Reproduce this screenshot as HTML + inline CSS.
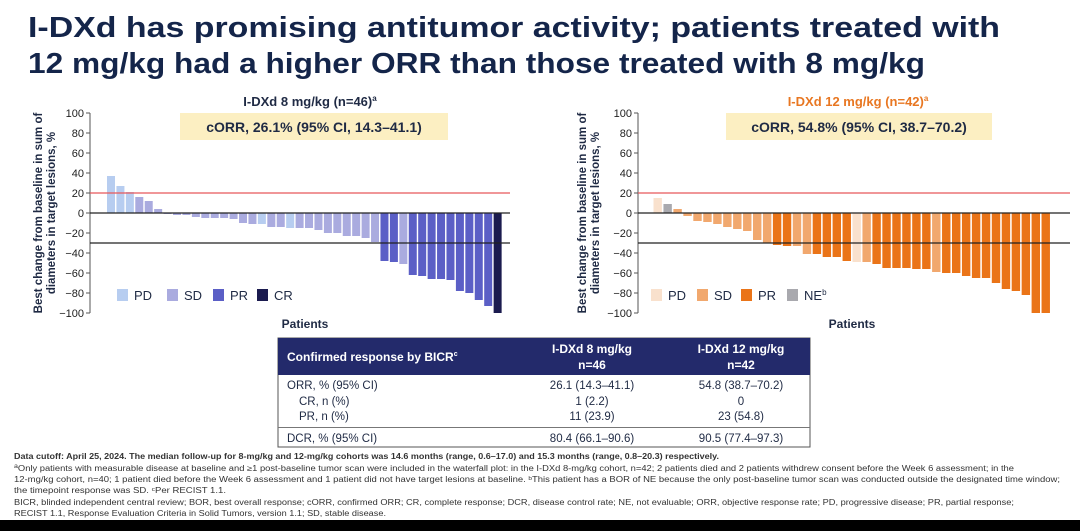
<!DOCTYPE html>
<html><head><meta charset="utf-8"><style>
body{margin:0;background:#fff;width:1080px;height:531px;overflow:hidden;font-family:"Liberation Sans",sans-serif}
svg{display:block}
</style></head><body>
<svg id="s" width="1080" height="531" viewBox="0 0 1080 531" font-family="Liberation Sans, sans-serif">
<text x="28" y="37" font-size="29" font-weight="bold" fill="#14254a" textLength="972" lengthAdjust="spacingAndGlyphs">I-DXd has promising antitumor activity; patients treated with</text>
<text x="28" y="73" font-size="29" font-weight="bold" fill="#14254a" textLength="897" lengthAdjust="spacingAndGlyphs">12 mg/kg had a higher ORR than those treated with 8 mg/kg</text>

<text x="310" y="106" font-size="13" font-weight="bold" fill="#1f2a44" text-anchor="middle">I-DXd 8 mg/kg (n=46)<tspan font-size="8" dy="-5">a</tspan></text>
<rect x="180" y="113" width="268" height="27" fill="#fcefc2"/>
<text x="314" y="132" font-size="14" font-weight="bold" fill="#1f2a44" text-anchor="middle">cORR, 26.1% (95% CI, 14.3–41.1)</text>

<text x="858" y="106" font-size="13" font-weight="bold" fill="#e87722" text-anchor="middle">I-DXd 12 mg/kg (n=42)<tspan font-size="8" dy="-5">a</tspan></text>
<rect x="726" y="113" width="266" height="27" fill="#fcefc2"/>
<text x="859" y="132" font-size="14" font-weight="bold" fill="#1f2a44" text-anchor="middle">cORR, 54.8% (95% CI, 38.7–70.2)</text>

<g id="charts"></g>

<g font-size="11.5" fill="#1f2a44">
<rect x="278" y="338" width="532" height="109" fill="#fff" stroke="#555" stroke-width="1"/>
<rect x="278" y="338" width="532" height="37" fill="#232a6b"/>
<text x="287" y="361" font-weight="bold" fill="#fff" font-size="12">Confirmed response by BICR<tspan font-size="7" dy="-5">c</tspan></text>
<text x="592" y="353" font-weight="bold" fill="#fff" font-size="12" text-anchor="middle">I-DXd 8 mg/kg</text>
<text x="592" y="369" font-weight="bold" fill="#fff" font-size="12" text-anchor="middle">n=46</text>
<text x="741" y="353" font-weight="bold" fill="#fff" font-size="12" text-anchor="middle">I-DXd 12 mg/kg</text>
<text x="741" y="369" font-weight="bold" fill="#fff" font-size="12" text-anchor="middle">n=42</text>
<text x="287" y="389">ORR, % (95% CI)</text>
<text x="299" y="405">CR, n (%)</text>
<text x="299" y="420">PR, n (%)</text>
<line x1="278" y1="427.5" x2="810" y2="427.5" stroke="#777"/>
<text x="287" y="442">DCR, % (95% CI)</text>
<text x="592" y="389" text-anchor="middle">26.1 (14.3–41.1)</text>
<text x="592" y="405" text-anchor="middle">1 (2.2)</text>
<text x="592" y="420" text-anchor="middle">11 (23.9)</text>
<text x="592" y="442" text-anchor="middle">80.4 (66.1–90.6)</text>
<text x="741" y="389" text-anchor="middle">54.8 (38.7–70.2)</text>
<text x="741" y="405" text-anchor="middle">0</text>
<text x="741" y="420" text-anchor="middle">23 (54.8)</text>
<text x="741" y="442" text-anchor="middle">90.5 (77.4–97.3)</text>
</g>

<g font-size="8" fill="#333" font-family="Liberation Sans Narrow, Liberation Sans, sans-serif">
<text x="14" y="459" font-weight="bold" textLength="705" lengthAdjust="spacingAndGlyphs">Data cutoff: April 25, 2024. The median follow-up for 8-mg/kg and 12-mg/kg cohorts was 14.6 months (range, 0.6–17.0) and 15.3 months (range, 0.8–20.3) respectively.</text>
<text x="14" y="471" textLength="1000" lengthAdjust="spacingAndGlyphs"><tspan font-size="6" dy="-3">a</tspan><tspan dy="3">Only patients with measurable disease at baseline and ≥1 post-baseline tumor scan were included in the waterfall plot: in the I-DXd 8-mg/kg cohort, n=42; 2 patients died and 2 patients withdrew consent before the Week 6 assessment; in the</tspan></text>
<text x="14" y="482" textLength="1046" lengthAdjust="spacingAndGlyphs">12-mg/kg cohort, n=40; 1 patient died before the Week 6 assessment and 1 patient did not have target lesions at baseline. ᵇThis patient has a BOR of NE because the only post-baseline tumor scan was conducted outside the designated time window;</text>
<text x="14" y="493" textLength="212" lengthAdjust="spacingAndGlyphs">the timepoint response was SD. ᶜPer RECIST 1.1.</text>
<text x="14" y="505" textLength="1000" lengthAdjust="spacingAndGlyphs">BICR, blinded independent central review; BOR, best overall response; cORR, confirmed ORR; CR, complete response; DCR, disease control rate; NE, not evaluable; ORR, objective response rate; PD, progressive disease; PR, partial response;</text>
<text x="14" y="516" textLength="372" lengthAdjust="spacingAndGlyphs">RECIST 1.1, Response Evaluation Criteria in Solid Tumors, version 1.1; SD, stable disease.</text>
</g>
<rect x="0" y="520" width="1080" height="11" fill="#000"/>
</svg>
<script>
var NS="http://www.w3.org/2000/svg",g=document.getElementById("charts");
function el(t,a,txt){var e=document.createElementNS(NS,t);for(var k in a)e.setAttribute(k,a[k]);if(txt!=null)e.textContent=txt;g.appendChild(e);return e;}
var C1={PD:"#b7cdf0",SD:"#aaabdf",PR:"#5b5fc6",CR:"#1b1b4f"};
var C2={PD:"#f9e1cd",SD:"#f1a86e",PR:"#ea7418",NE:"#a9a9ae"};
var d1=[[37,"PD"],[27,"PD"],[21,"PD"],[16,"SD"],[12,"SD"],[4,"SD"],[-1,"SD"],[-2,"SD"],[-2,"SD"],[-4,"SD"],[-5,"SD"],[-5,"SD"],[-5,"SD"],[-6,"SD"],[-10,"SD"],[-11,"SD"],[-11,"PD"],[-14,"SD"],[-14,"SD"],[-15,"PD"],[-15,"SD"],[-15,"SD"],[-17,"SD"],[-20,"SD"],[-20,"SD"],[-23,"SD"],[-23,"SD"],[-25,"SD"],[-29,"SD"],[-48,"PR"],[-49,"PR"],[-51,"SD"],[-62,"PR"],[-63,"PR"],[-66,"PR"],[-66,"PR"],[-67,"PR"],[-78,"PR"],[-80,"PR"],[-87,"PR"],[-93,"PR"],[-100,"CR"]];
var d2=[[15,"PD"],[9,"NE"],[4,"SD"],[-3,"SD"],[-8,"SD"],[-9,"SD"],[-11,"SD"],[-14,"SD"],[-16,"SD"],[-18,"SD"],[-27,"SD"],[-30,"SD"],[-32,"PR"],[-33,"PR"],[-33,"SD"],[-41,"SD"],[-41,"PR"],[-44,"PR"],[-44,"PR"],[-48,"PR"],[-49,"PD"],[-49,"SD"],[-51,"PR"],[-55,"PR"],[-55,"PR"],[-55,"PR"],[-56,"PR"],[-56,"PR"],[-59,"SD"],[-60,"PR"],[-60,"PR"],[-63,"PR"],[-65,"PR"],[-65,"PR"],[-70,"PR"],[-76,"PR"],[-78,"PR"],[-82,"PR"],[-100,"PR"],[-100,"PR"]];
function chart(ax,right,x0,slot,bw,data,col,lab,leg,patX){
 var z=213;
 for(var i=0;i<data.length;i++){var v=data[i][0],x=x0+i*slot;el("rect",{x:x,y:v>0?z-v:z,width:bw,height:Math.abs(v),fill:col[data[i][1]]});}
 el("line",{x1:ax,y1:113,x2:ax,y2:313,stroke:"#555","stroke-width":1});
 for(var t=100;t>=-100;t-=20){var y=z-t;el("line",{x1:ax-4,y1:y,x2:ax,y2:y,stroke:"#555"});el("text",{x:ax-6,y:y+4,"font-size":11,fill:"#222","text-anchor":"end"},t<0?"−"+(-t):String(t));}
 el("line",{x1:ax,y1:193,x2:right,y2:193,stroke:"#e8585a","stroke-width":1.3});
 el("line",{x1:ax,y1:213,x2:right,y2:213,stroke:"#222","stroke-width":1.2});
 el("line",{x1:ax,y1:243,x2:right,y2:243,stroke:"#222","stroke-width":1.2});
 var lx=lab;
 var t1=el("text",{transform:"translate("+lx+",213) rotate(-90)","font-size":11.5,"font-weight":"bold",fill:"#1f2a44","text-anchor":"middle"},"Best change from baseline in sum of");
 var t2=el("text",{transform:"translate("+(lx+13)+",213) rotate(-90)","font-size":11.5,"font-weight":"bold",fill:"#1f2a44","text-anchor":"middle"},"diameters in target lesions, %");
 el("text",{x:patX,y:328,"font-size":12,"font-weight":"bold",fill:"#1f2a44","text-anchor":"middle"},"Patients");
 for(var j=0;j<leg.length;j++){var L=leg[j];el("rect",{x:L[0],y:289,width:11,height:12,fill:L[2]});var tt=el("text",{x:L[0]+17,y:300,"font-size":13,fill:"#1f2a44"},L[1]);if(L[3]){var ts=document.createElementNS(NS,"tspan");ts.setAttribute("font-size","8");ts.setAttribute("dy","-5");ts.textContent="b";tt.appendChild(ts);}}
}
chart(90,510,107,9.43,8,d1,C1,42,[[117,"PD",C1.PD],[167,"SD",C1.SD],[213,"PR",C1.PR],[257,"CR",C1.CR]],305);
chart(638,1070,653.5,9.95,8.4,d2,C2,586,[[651,"PD",C2.PD],[697,"SD",C2.SD],[741,"PR",C2.PR],[787,"NE",C2.NE,1]],852);
</script>
</body></html>
